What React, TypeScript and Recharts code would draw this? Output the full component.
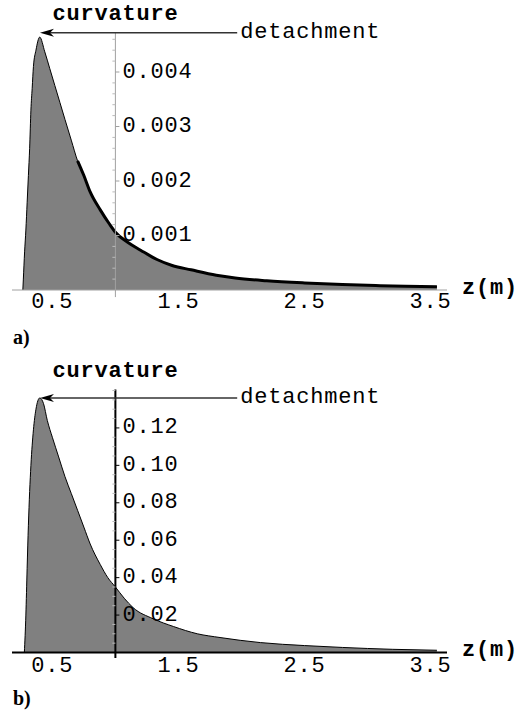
import React from "react";
import {
  ComposedChart,
  Area,
  Line,
  XAxis,
  YAxis,
  ReferenceLine,
  ReferenceDot,
} from "recharts";

// panel a) – curvature along z
const zA = [0.266, 0.27, 0.28, 0.29, 0.3, 0.31, 0.32, 0.33, 0.34, 0.35, 0.37, 0.4, 0.44, 0.48, 0.52, 0.56, 0.6, 0.65, 0.7, 0.75, 0.8, 0.88, 0.95, 1.0, 1.1, 1.2, 1.33, 1.45, 1.6, 1.8, 1.95, 2.2, 2.5, 2.8, 3.1, 3.3, 3.55];
const curvA = [0, 0.0002, 0.0007, 0.0011, 0.0016, 0.0021, 0.0026, 0.0033, 0.0037, 0.0041, 0.0044, 0.00464, 0.00437, 0.00406, 0.00375, 0.00344, 0.00313, 0.00275, 0.00237, 0.0021, 0.0018, 0.00147, 0.00122, 0.00106, 0.00087, 0.00073, 0.00056, 0.00045, 0.00037, 0.00027, 0.00022, 0.00017, 0.00013, 0.0001, 0.00008, 0.00007, 0.00006];
const yTicksA = [0.001, 0.002, 0.003, 0.004];
const yLabelsA = ["0.001", "0.002", "0.003", "0.004"];

// panel b)
const zB = [0.278, 0.29, 0.3, 0.31, 0.32, 0.33, 0.35, 0.37, 0.4, 0.43, 0.46, 0.5, 0.55, 0.6, 0.65, 0.7, 0.75, 0.8, 0.88, 0.94, 1.0, 1.07, 1.14, 1.3, 1.46, 1.65, 1.83, 2.15, 2.5, 2.8, 3.2, 3.55];
const curvB = [0, 0.02, 0.045, 0.068, 0.086, 0.1, 0.119, 0.13, 0.136, 0.133, 0.124, 0.115, 0.1045, 0.094, 0.085, 0.076, 0.067, 0.058, 0.047, 0.04, 0.035, 0.029, 0.024, 0.018, 0.0139, 0.01, 0.008, 0.0053, 0.0037, 0.0027, 0.0017, 0.0012];
const yTicksB = [0.02, 0.04, 0.06, 0.08, 0.1, 0.12];
const yLabelsB = ["0.02", "0.04", "0.06", "0.08", "0.10", "0.12"];

const xTicks = [0.5, 1.5, 2.5, 3.5];
const xLabels = ["0.5", "1.5", "2.5", "3.5"];

const yTitle = "curvature";
const xTitle = "z(m)";
const arrowText = "detachment";

const MONO = "'Liberation Mono', 'DejaVu Sans Mono', monospace";

type PanelProps = {
  z: number[];
  curv: number[];
  yMax: number;
  yTicks: number[];
  yLabels: string[];
  minorStep: number;
  axisTop: number;
  axisBelow: number;
  arrowY: number;
  tailFrom?: number;
  axisColor: string;
  axisWidth: number;
  height: number;
  top: number;
  bottom: number;
  tickMargin: number;
};

function Panel(p: PanelProps) {
  const data = p.z.map((z, i) => ({
    z,
    curv: p.curv[i],
    tail: p.tailFrom !== undefined && z >= p.tailFrom ? p.curv[i] : null,
  }));

  const minor: number[] = [];
  for (let v = p.minorStep; v < p.axisTop; v += p.minorStep) {
    if (!p.yTicks.some((t) => Math.abs(t - v) < p.minorStep / 10)) minor.push(v);
  }

  const fmt = (v: number) => {
    const i = xTicks.indexOf(v);
    return i >= 0 ? xLabels[i] : "";
  };

  return (
    <ComposedChart
      width={520}
      height={p.height}
      data={data}
      margin={{ top: p.top, right: 73, left: 12, bottom: p.bottom }}
    >
      <XAxis
        dataKey="z"
        type="number"
        domain={[0.18, 3.63]}
        allowDataOverflow
        ticks={xTicks}
        tickFormatter={fmt}
        tickLine={false}
        tickSize={0}
        tickMargin={p.tickMargin}
        height={30}
        axisLine={{ stroke: p.axisColor, strokeWidth: p.axisWidth }}
        tick={{ fill: "#000", fontFamily: MONO, fontSize: 22, letterSpacing: 0.8 }}
      />
      <YAxis hide type="number" domain={[0, p.yMax]} allowDataOverflow />
      <Area
        type="monotone"
        dataKey="curv"
        stroke="#000"
        strokeWidth={1}
        fill="#808080"
        fillOpacity={1}
        baseValue={0}
        isAnimationActive={false}
        dot={false}
        activeDot={false}
      />
      {p.tailFrom !== undefined && (
        <Line
          type="monotone"
          dataKey="tail"
          stroke="#000"
          strokeWidth={3}
          dot={false}
          activeDot={false}
          isAnimationActive={false}
          connectNulls={false}
        />
      )}
      {/* vertical axis drawn at z = 1 */}
      <ReferenceLine
        ifOverflow="visible"
        segment={[
          { x: 1, y: p.axisBelow },
          { x: 1, y: p.axisTop },
        ]}
        shape={(s: any) => (
          <g>
            <line
              x1={s.x1}
              y1={s.y1}
              x2={s.x2}
              y2={s.y2}
              stroke={p.axisColor}
              strokeWidth={p.axisWidth}
            />
            <text
              x={s.x1}
              y={Math.min(s.y1, s.y2) - 18}
              textAnchor="middle"
              dominantBaseline="central"
              fontFamily={MONO}
              fontWeight="bold"
              fontSize={22}
              letterSpacing={0.8}
              fill="#000"
            >
              {yTitle}
            </text>
          </g>
        )}
      />
      {minor.map((v) => (
        <ReferenceDot
          key={"m" + v}
          x={1}
          y={v}
          r={0}
          ifOverflow="visible"
          shape={(s: any) => (
            <line x1={s.cx - 3} x2={s.cx} y1={s.cy} y2={s.cy} stroke="#bbb" strokeWidth={1} />
          )}
        />
      ))}
      {p.yTicks.map((v, i) => (
        <ReferenceDot
          key={"t" + v}
          x={1}
          y={v}
          r={0}
          ifOverflow="visible"
          shape={(s: any) => (
            <g>
              <line x1={s.cx} x2={s.cx + 4} y1={s.cy} y2={s.cy} stroke={p.axisColor} strokeWidth={1} />
              <text
                x={s.cx + 7}
                y={s.cy}
                dominantBaseline="central"
                fontFamily={MONO}
                fontSize={22}
                letterSpacing={0.8}
                fill="#000"
              >
                {p.yLabels[i]}
              </text>
            </g>
          )}
        />
      ))}
      {/* detachment arrow */}
      <ReferenceLine
        ifOverflow="visible"
        segment={[
          { x: 0.402, y: p.arrowY },
          { x: 1.966, y: p.arrowY },
        ]}
        shape={(s: any) => (
          <g>
            <line x1={s.x1 + 6} y1={s.y1} x2={s.x2} y2={s.y2} stroke="#333" strokeWidth={1.5} />
            <polygon
              points={`${s.x1},${s.y1} ${s.x1 + 14},${s.y1 - 4} ${s.x1 + 10},${s.y1} ${s.x1 + 14},${s.y1 + 4}`}
              fill="#000"
            />
            <text
              x={s.x2 + 3}
              y={s.y2}
              dominantBaseline="central"
              fontFamily={MONO}
              fontSize={22}
              letterSpacing={0.8}
              fill="#000"
            >
              {arrowText}
            </text>
          </g>
        )}
      />
      <ReferenceDot
        x={3.63}
        y={0}
        r={0}
        ifOverflow="visible"
        shape={(s: any) => (
          <text
            x={s.cx + 15}
            y={s.cy - 2}
            dominantBaseline="central"
            fontFamily={MONO}
            fontWeight="bold"
            fontSize={22}
            letterSpacing={0.8}
            fill="#000"
          >
            {xTitle}
          </text>
        )}
      />
    </ComposedChart>
  );
}

const panelLabel: React.CSSProperties = {
  position: "absolute",
  left: 13,
  fontFamily: "'Liberation Serif', serif",
  fontWeight: "bold",
  fontSize: 20,
  lineHeight: "22px",
};

export default function App() {
  return (
    <div style={{ position: "absolute", left: 0, top: 0, width: 520, height: 711, background: "#fff" }}>
      <div style={{ position: "absolute", left: 0, top: 0 }}>
        <Panel
          z={zA}
          curv={curvA}
          yMax={0.0048}
          yTicks={yTicksA}
          yLabels={yLabelsA}
          minorStep={0.0002}
          axisTop={0.00473}
          axisBelow={-0.00013}
          arrowY={0.00472}
          tailFrom={0.7}
          axisColor="#a0a0a0"
          axisWidth={1}
          height={330}
          top={28.4}
          bottom={10}
          tickMargin={2}
        />
      </div>
      <div style={{ ...panelLabel, top: 326 }}>a)</div>
      <div style={{ position: "absolute", left: 0, top: 350 }}>
        <Panel
          z={zB}
          curv={curvB}
          yMax={0.142}
          yTicks={yTicksB}
          yLabels={yLabelsB}
          minorStep={0.005}
          axisTop={0.1405}
          axisBelow={-0.003}
          arrowY={0.136}
          axisColor="#000"
          axisWidth={2}
          height={340}
          top={36.75}
          bottom={7.5}
          tickMargin={4}
        />
      </div>
      <div style={{ ...panelLabel, top: 687 }}>b)</div>
    </div>
  );
}
